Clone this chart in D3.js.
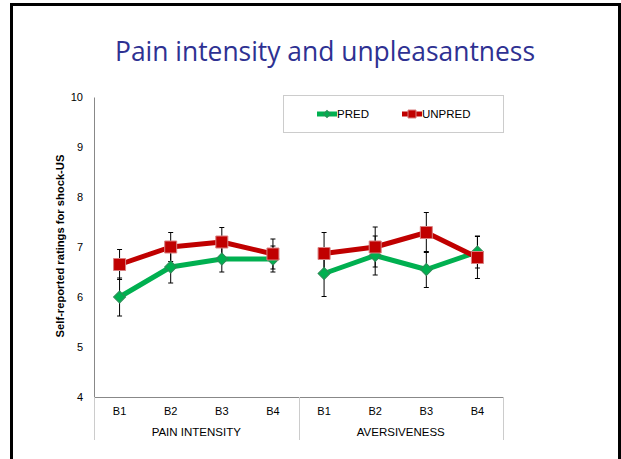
<!DOCTYPE html>
<head>
  <meta charset="utf-8">
  <style>
  body { margin: 0; background: #fff; }
  text { font-family: 'Liberation Sans', Arial, sans-serif; }
  .title { font-family: 'Open Sans', sans-serif; fill: #2e3192; }
  </style>
</head>
<body>
  <svg id="chart"></svg>
  <script src="https://cdn.jsdelivr.net/npm/d3@7/dist/d3.min.js"></script>
  <script>

  var width = 621,
      height = 459;

  // Data
  var groups = ['PAIN INTENSITY', 'AVERSIVENESS'];
  var blocks = ['B1', 'B2', 'B3', 'B4'];
  var yTicks = [4, 5, 6, 7, 8, 9, 10];

  var predMean   = [6.0, 6.6, 6.76, 6.76, 6.47, 6.83, 6.55, 6.9];
  var predErr    = [0.38, 0.32, 0.26, 0.26, 0.46, 0.39, 0.36, 0.32];
  var unpredMean = [6.65, 7.0, 7.1, 6.86, 6.87, 7.0, 7.29, 6.79];
  var unpredErr  = [0.3, 0.29, 0.29, 0.3, 0.42, 0.4, 0.4, 0.42];

  var keys = [];
  groups.forEach(function(g) {
    blocks.forEach(function(b) { keys.push(g + '|' + b); });
  });

  var series = [
    { name: 'PRED', mean: predMean, err: predErr, color: '#00b050', stroke: '#2e8b57', shape: 'diamond' },
    { name: 'UNPRED', mean: unpredMean, err: unpredErr, color: '#c00000', stroke: '#d98080', shape: 'square' }
  ];

  var svg = d3.select('#chart')
    .attr('width', width)
    .attr('height', height);

  // slide frame
  svg.append('path')
    .attr('d', 'M11.5,470 V4.5 H619.5 V470')
    .attr('fill', 'none')
    .attr('stroke', '#000')
    .attr('stroke-width', 3);

  svg.append('text')
    .attr('class', 'title')
    .attr('x', 325)
    .attr('y', 61)
    .attr('text-anchor', 'middle')
    .attr('textLength', 420)
    .attr('lengthAdjust', 'spacingAndGlyphs')
    .style('font-size', '27px')
    .text('Pain intensity and unpleasantness');

  var x = d3.scaleBand()
    .domain(keys)
    .range([94, 503]);

  var y = d3.scaleLinear()
    .domain([4, 10])
    .range([397, 97]);

  // y axis
  var yAxis = svg.append('g')
    .attr('transform', 'translate(94,0)')
    .call(d3.axisLeft(y).tickValues(yTicks).tickSize(0).tickPadding(11).tickFormat(d3.format('d')));
  yAxis.select('.domain').attr('stroke', '#888');
  yAxis.selectAll('text').style('font-size', '11px').attr('fill', '#000');

  // x axis
  var xAxis = svg.append('g')
    .attr('transform', 'translate(0,' + y(4) + ')')
    .call(d3.axisBottom(x).tickSize(0).tickPadding(10)
      .tickFormat(function(d) { return d.split('|')[1]; }));
  xAxis.select('.domain').attr('stroke', '#888');
  xAxis.selectAll('text').style('font-size', '11px').attr('fill', '#000');

  // group separators and labels
  var bounds = [x(keys[0]), x(keys[4]), x(keys[7]) + x.bandwidth()];
  svg.selectAll('.sep')
    .data(bounds)
    .enter().append('line')
      .attr('class', 'sep')
      .attr('x1', function(d) { return Math.round(d) + 0.5; })
      .attr('x2', function(d) { return Math.round(d) + 0.5; })
      .attr('y1', y(4))
      .attr('y2', 440)
      .attr('stroke', '#ccc');

  svg.selectAll('.group-label')
    .data(groups)
    .enter().append('text')
      .attr('class', 'group-label')
      .attr('x', function(d, i) { return (bounds[i] + bounds[i + 1]) / 2; })
      .attr('y', 436)
      .attr('text-anchor', 'middle')
      .style('font-size', '11.5px')
      .text(function(d) { return d; });

  svg.append('text')
    .attr('transform', 'translate(64,246)rotate(-90)')
    .attr('text-anchor', 'middle')
    .style('font-size', '11.2px')
    .style('font-weight', 'bold')
    .text('Self-reported ratings for shock-US');

  var cx = function(i) { return x(keys[i]) + x.bandwidth() / 2; };

  // lines, one per group
  var line = d3.line()
    .x(function(d) { return cx(d.i); })
    .y(function(d) { return y(d.v); });

  series.forEach(function(s) {
    groups.forEach(function(g, gi) {
      var pts = s.mean.slice(gi * 4, gi * 4 + 4).map(function(v, j) { return { i: gi * 4 + j, v: v }; });
      svg.append('path')
        .attr('d', line(pts))
        .attr('fill', 'none')
        .attr('stroke', s.color)
        .attr('stroke-width', 5)
        .attr('stroke-linejoin', 'round');
    });
  });

  // error bars
  series.forEach(function(s) {
    var eb = svg.append('g');
    s.mean.forEach(function(v, i) {
      var x0 = cx(i);
      var top = y(v + s.err[i]), bot = y(v - s.err[i]);
      eb.append('line').attr('x1', x0).attr('x2', x0).attr('y1', top).attr('y2', bot)
        .attr('stroke', '#000').attr('stroke-width', 1);
      [top, bot].forEach(function(t) {
        eb.append('line').attr('x1', x0 - 2.5).attr('x2', x0 + 2.5).attr('y1', t).attr('y2', t)
          .attr('stroke', '#000').attr('stroke-width', 1);
      });
    });
  });

  // markers
  var diamond = d3.symbol().type(d3.symbolSquare).size(72);
  series.forEach(function(s) {
    svg.append('g').selectAll('path')
      .data(s.mean)
      .enter().append('path')
        .attr('d', s.shape === 'square' ? d3.symbol().type(d3.symbolSquare).size(144)() : diamond())
        .attr('transform', function(d, i) {
          return 'translate(' + cx(i) + ',' + y(d) + ')' + (s.shape === 'diamond' ? 'rotate(45)' : '');
        })
        .attr('fill', s.color)
        .attr('stroke', s.stroke)
        .attr('stroke-width', 1);
  });

  // legend
  var legend = svg.append('g');
  legend.append('rect')
    .attr('x', 283.5).attr('y', 95.5)
    .attr('width', 220).attr('height', 37)
    .attr('fill', '#fff')
    .attr('stroke', '#ccc');

  var legendX = [317, 402];
  series.forEach(function(s, i) {
    var lg = legend.append('g').attr('transform', 'translate(' + legendX[i] + ',114)');
    lg.append('line').attr('x1', 0).attr('x2', 20).attr('y1', 0).attr('y2', 0)
      .attr('stroke', s.color).attr('stroke-width', 5);
    lg.append('path')
      .attr('d', s.shape === 'square' ? d3.symbol().type(d3.symbolSquare).size(64)() : d3.symbol().type(d3.symbolSquare).size(24)())
      .attr('transform', 'translate(10,0)' + (s.shape === 'diamond' ? 'rotate(45)' : ''))
      .attr('fill', s.color)
      .attr('stroke', s.stroke);
    lg.append('text')
      .attr('x', 20)
      .attr('y', 4)
      .style('font-size', '11.5px')
      .text(s.name);
  });

  </script>
</body>
